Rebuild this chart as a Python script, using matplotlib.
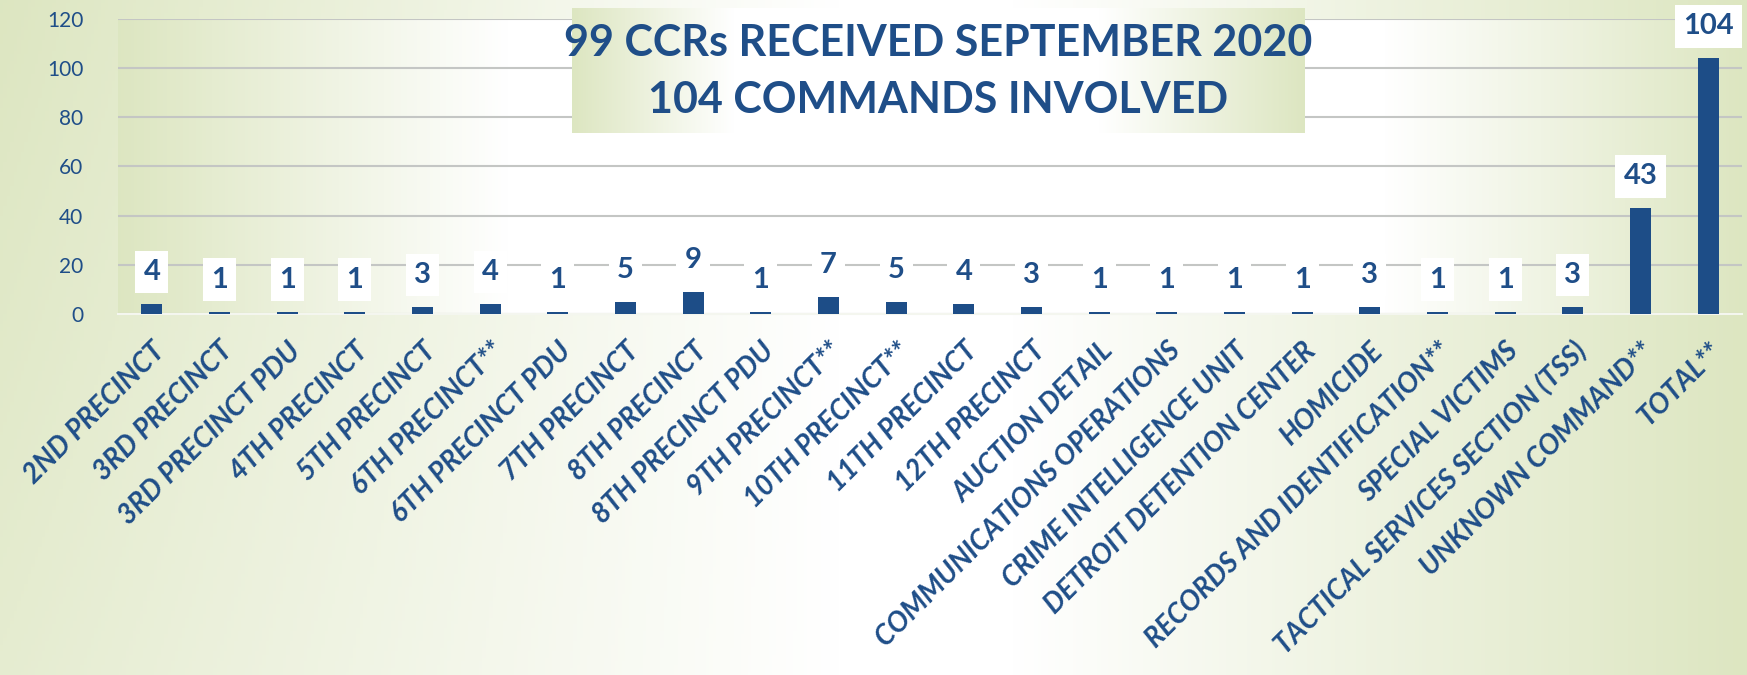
import numpy as np
import matplotlib
matplotlib.use("Agg")
import matplotlib.pyplot as plt

categories = ['2ND PRECINCT', '3RD PRECINCT', '3RD PRECINCT PDU', '4TH PRECINCT',
              '5TH PRECINCT', '6TH PRECINCT**', '6TH PRECINCT PDU', '7TH PRECINCT',
              '8TH PRECINCT', '8TH PRECINCT PDU', '9TH PRECINCT**', '10TH PRECINCT**',
              '11TH PRECINCT', '12TH PRECINCT', 'AUCTION DETAIL',
              'COMMUNICATIONS OPERATIONS', 'CRIME INTELLIGENCE UNIT',
              'DETROIT DETENTION CENTER', 'HOMICIDE', 'RECORDS AND IDENTIFICATION**',
              'SPECIAL VICTIMS', 'TACTICAL SERVICES SECTION (TSS)', 'UNKNOWN COMMAND**',
              'TOTAL**']
values = [4, 1, 1, 1, 3, 4, 1, 5, 9, 1, 7, 5, 4, 3, 1, 1, 1, 1, 3, 1, 1, 3, 43, 104]
yticks = [0, 20, 40, 60, 80, 100, 120]
title_lines = ['99 CCRs RECEIVED SEPTEMBER 2020', '104 COMMANDS INVOLVED']

BLUE = '#1F4E88'
BAR = '#1D4D87'
GREEN = np.array([0.866, 0.902, 0.757])
WHITE = np.array([1.0, 1.0, 1.0])

FONT = ['Lato', 'Open Sans', 'DejaVu Sans']

W, H = 1747, 675
fig = plt.figure(figsize=(W / 100, H / 100), dpi=100)


def hgrad(n, left_end, right_start, power=1.0):
    x = np.linspace(0, 1, n)
    t = np.clip((left_end - x) / left_end, 0, 1) ** power
    t = np.maximum(t, np.clip((x - right_start) / (1 - right_start), 0, 1) ** power)
    img = WHITE[None, :] * (1 - t[:, None]) + GREEN[None, :] * t[:, None]
    return img[None, :, :]


# figure background
bg = fig.add_axes([0, 0, 1, 1], zorder=0)
x = np.linspace(0, 1, 500)
y = np.linspace(0, 1, 200)[:, None]
tl = np.clip((0.48 - x) / 0.48, 0, 1)[None, :] * (0.75 + 0.25 * (1 - y))
tr = np.clip((x - 0.58) / 0.42, 0, 1)[None, :] * np.ones_like(y)
t = np.maximum(tl, tr)
img = WHITE[None, None, :] * (1 - t[..., None]) + GREEN[None, None, :] * t[..., None]
bg.imshow(img, aspect='auto', extent=(0, 1, 0, 1), origin='upper')
bg.set_axis_off()

# main axes
left, right, top, bottom = 118, 1742, 19, 314
ax = fig.add_axes([left / W, 1 - bottom / H, (right - left) / W, (bottom - top) / H], zorder=1)
ax.patch.set_alpha(0)
ax.imshow(hgrad(500, 0.24, 0.78), aspect='auto', extent=(0, 1, 0, 1),
          transform=ax.transAxes, zorder=0)

xpos = np.arange(len(categories))
ax.bar(xpos, values, width=0.31, color=BAR, zorder=3)
ax.set_xlim(-0.5, len(categories) - 0.5)
ax.set_ylim(0, 120)
ax.set_yticks(yticks)
ax.yaxis.grid(True, color='#C4C6C4', linewidth=1.5, zorder=1)
ax.set_axisbelow(True)
for s in ['top', 'right', 'left']:
    ax.spines[s].set_visible(False)
ax.spines['bottom'].set_color('#F4F6EF')
ax.spines['bottom'].set_linewidth(1.5)
ax.tick_params(axis='y', length=0, pad=25, labelsize=15, labelcolor=BLUE)
for lab in ax.get_yticklabels():
    lab.set_family(FONT)
ax.set_xticks(xpos)
ax.set_xticklabels(categories, rotation=45, ha='right', rotation_mode='anchor',
                   fontsize=20, fontweight='bold', fontstyle='italic', color=BLUE,
                   family=FONT)
ax.tick_params(axis='x', length=0, pad=17)

for i, v in enumerate(values):
    ax.annotate(str(v), (i, v), xytext=(0, 23), textcoords='offset points',
                ha='center', va='center', fontsize=21, fontweight='bold', color=BLUE,
                family=FONT, zorder=5,
                bbox=dict(boxstyle='square,pad=0.28', fc='white', ec='none'))

# title box
tb_l, tb_r, tb_t, tb_b = 572, 1305, 8, 133
tax = fig.add_axes([tb_l / W, 1 - tb_b / H, (tb_r - tb_l) / W, (tb_b - tb_t) / H], zorder=4)
tax.imshow(hgrad(400, 0.22, 0.72), aspect='auto', extent=(0, 1, 0, 1))
tax.set_xlim(0, 1)
tax.set_ylim(0, 1)
tax.set_axis_off()
tax.text(0.5, 0.72, title_lines[0], ha='center', va='center', fontsize=31,
         fontweight='bold', color=BLUE, family=FONT)
tax.text(0.5, 0.265, title_lines[1], ha='center', va='center', fontsize=31,
         fontweight='bold', color=BLUE, family=FONT)

fig.savefig('out.png', dpi=100)
